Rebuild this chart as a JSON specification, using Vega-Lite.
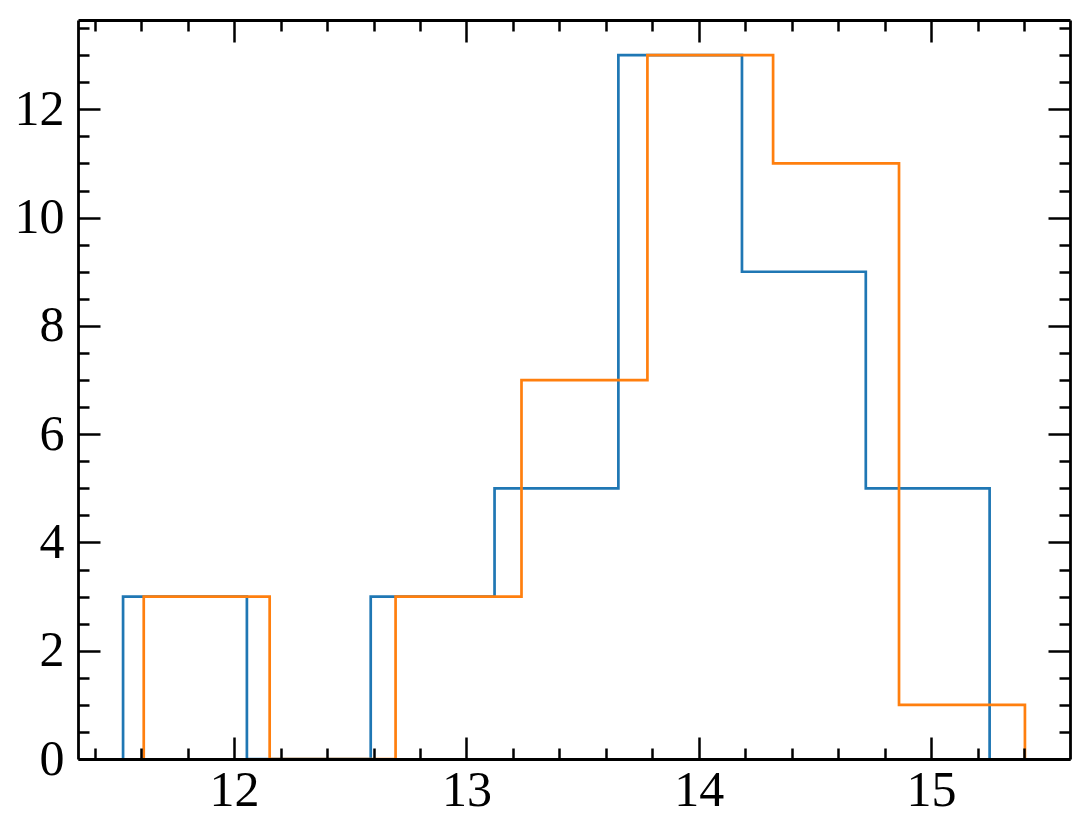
{
  "$schema": "https://vega.github.io/schema/vega-lite/v6.json",
  "autosize": {"type": "none"},
  "padding": {"left": 78, "top": 20, "right": 19, "bottom": 74},
  "width": 992,
  "height": 739,
  "background": "white",
  "config": {
    "view": {"stroke": null},
    "axis": {"grid": false, "labelFont": "Liberation Serif", "labelFontSize": 50, "labelColor": "black", "domainColor": "black", "tickColor": "black", "domainWidth": 2.8, "tickWidth": 2.5, "title": null}
  },
  "data": {"values": [
    {"s": "a", "i": 0, "x": 11.522, "y": 0},
    {"s": "a", "i": 1, "x": 11.522, "y": 3},
    {"s": "a", "i": 2, "x": 12.055, "y": 0},
    {"s": "a", "i": 3, "x": 12.588, "y": 3},
    {"s": "a", "i": 4, "x": 13.121, "y": 5},
    {"s": "a", "i": 5, "x": 13.654, "y": 13},
    {"s": "a", "i": 6, "x": 14.186, "y": 9},
    {"s": "a", "i": 7, "x": 14.719, "y": 5},
    {"s": "a", "i": 8, "x": 15.252, "y": 0},
    {"s": "b", "i": 0, "x": 11.611, "y": 0},
    {"s": "b", "i": 1, "x": 11.611, "y": 3},
    {"s": "b", "i": 2, "x": 12.153, "y": 0},
    {"s": "b", "i": 3, "x": 12.695, "y": 3},
    {"s": "b", "i": 4, "x": 13.237, "y": 7},
    {"s": "b", "i": 5, "x": 13.779, "y": 13},
    {"s": "b", "i": 6, "x": 14.320, "y": 11},
    {"s": "b", "i": 7, "x": 14.862, "y": 1},
    {"s": "b", "i": 8, "x": 15.404, "y": 0}
  ]},
  "resolve": {"axis": {"x": "independent", "y": "independent"}},
  "layer": [
    {
      "mark": {"type": "line", "interpolate": "step-after", "strokeWidth": 2.7, "clip": true},
      "encoding": {
        "x": {"field": "x", "type": "quantitative", "scale": {"domain": [11.328, 15.598], "nice": false, "zero": false},
              "axis": {"orient": "bottom", "zindex": 2, "values": [12, 13, 14, 15], "ticks": false, "labelPadding": 6, "domain": true}},
        "y": {"field": "y", "type": "quantitative", "scale": {"domain": [0, 13.65], "nice": false, "zero": false},
              "axis": {"orient": "left", "zindex": 2, "values": [0, 2, 4, 6, 8, 10, 12], "ticks": false, "labelPadding": 14, "domain": true}},
        "color": {"field": "s", "type": "nominal", "scale": {"domain": ["a", "b"], "range": ["#1f77b4", "#ff7f0e"]}, "legend": null},
        "order": {"field": "i", "type": "quantitative"}
      }
    },
    {
      "mark": {"type": "point", "opacity": 0},
      "encoding": {
        "x": {"field": "x", "type": "quantitative", "axis": {"orient": "bottom", "zindex": 2, "values": [12, 13, 14, 15], "labels": false, "domain": false, "tickSize": -22}},
        "y": {"field": "y", "type": "quantitative", "axis": {"orient": "left", "zindex": 2, "values": [0, 2, 4, 6, 8, 10, 12], "labels": false, "domain": false, "tickSize": -22}}
      }
    },
    {
      "mark": {"type": "point", "opacity": 0},
      "encoding": {
        "x": {"field": "x", "type": "quantitative", "axis": {"orient": "bottom", "zindex": 2, "values": [11.4, 11.6, 11.8, 12.2, 12.4, 12.6, 12.8, 13.2, 13.4, 13.6, 13.8, 14.2, 14.4, 14.6, 14.8, 15.2, 15.4], "labels": false, "domain": false, "tickSize": -11}},
        "y": {"field": "y", "type": "quantitative", "axis": {"orient": "left", "zindex": 2, "values": [0.5, 1, 1.5, 2.5, 3, 3.5, 4.5, 5, 5.5, 6.5, 7, 7.5, 8.5, 9, 9.5, 10.5, 11, 11.5, 12.5, 13, 13.5], "labels": false, "domain": false, "tickSize": -11}}
      }
    },
    {
      "mark": {"type": "point", "opacity": 0},
      "encoding": {
        "x": {"field": "x", "type": "quantitative", "axis": {"orient": "top", "zindex": 2, "values": [12, 13, 14, 15], "labels": false, "domain": true, "tickSize": -22}},
        "y": {"field": "y", "type": "quantitative", "axis": {"orient": "right", "zindex": 2, "values": [0, 2, 4, 6, 8, 10, 12], "labels": false, "domain": true, "tickSize": -22}}
      }
    },
    {
      "mark": {"type": "point", "opacity": 0},
      "encoding": {
        "x": {"field": "x", "type": "quantitative", "axis": {"orient": "top", "zindex": 2, "values": [11.4, 11.6, 11.8, 12.2, 12.4, 12.6, 12.8, 13.2, 13.4, 13.6, 13.8, 14.2, 14.4, 14.6, 14.8, 15.2, 15.4], "labels": false, "domain": false, "tickSize": -11}},
        "y": {"field": "y", "type": "quantitative", "axis": {"orient": "right", "zindex": 2, "values": [0.5, 1, 1.5, 2.5, 3, 3.5, 4.5, 5, 5.5, 6.5, 7, 7.5, 8.5, 9, 9.5, 10.5, 11, 11.5, 12.5, 13, 13.5], "labels": false, "domain": false, "tickSize": -11}}
      }
    }
  ]
}
